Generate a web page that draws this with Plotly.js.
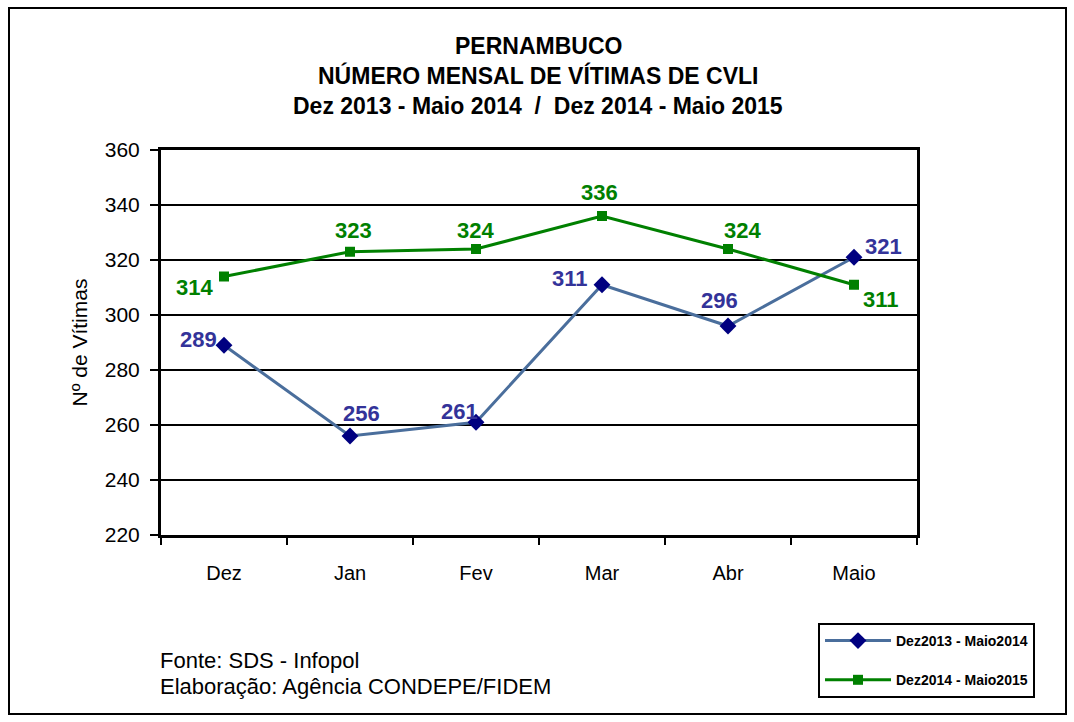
<!DOCTYPE html>
<html>
<head>
<meta charset="utf-8">
<script src="https://cdn.plot.ly/plotly-3.0.1.min.js"></script>
<style>html,body{margin:0;padding:0;background:#fff;}#chart{width:1074px;height:722px;}</style>
</head>
<body>
<div id="chart"></div>
<script>
const months = ["Dez", "Jan", "Fev", "Mar", "Abr", "Maio"];
const series1Name = "Dez2013 - Maio2014";
const series1 = [289, 256, 261, 311, 296, 321];
const series2Name = "Dez2014 - Maio2015";
const series2 = [314, 323, 324, 336, 324, 311];
const yTicks = [220, 240, 260, 280, 300, 320, 340, 360];
const titleLines = ["PERNAMBUCO", "NÚMERO MENSAL DE VÍTIMAS DE CVLI", "Dez 2013 - Maio 2014  /  Dez 2014 - Maio 2015"];
const sourceText = ["Fonte: SDS - Infopol", "Elaboração: Agência CONDEPE/FIDEM"];

const blueLine = "#4a6e9c", blueMarker = "#000080", blueText = "#333399";
const green = "#008000";
const font = "Liberation Sans, Arial, sans-serif";

const W = 756, H = 385, L = 161, T = 150;
const px = v => (v - L) / W;
const py = v => (T + H - v) / H;

// label offsets (pixels) per point
const off1 = [[-26, -6], [11, -23], [-17, -11], [-32, -6], [-9, -26], [29, -11]];
const off2 = [[-30, 11], [3, -21], [-1, -19], [-3, -24], [14, -19], [27, 15]];

const annotations = [];
series1.forEach((v, i) => annotations.push({
  x: months[i], y: v, xref: "x", yref: "y", text: String(v), showarrow: false,
  xshift: off1[i][0], yshift: -off1[i][1],
  font: {family: font, size: 22, color: blueText, weight: "bold"}
}));
series2.forEach((v, i) => annotations.push({
  x: months[i], y: v, xref: "x", yref: "y", text: String(v), showarrow: false,
  xshift: off2[i][0], yshift: -off2[i][1],
  font: {family: font, size: 22, color: green, weight: "bold"}
}));
const titleY = [46, 76, 106];
titleLines.forEach((t, i) => annotations.push({
  xref: "paper", yref: "paper", x: px(538), y: py(titleY[i]), xanchor: "center", yanchor: "middle",
  showarrow: false, text: "<b>" + t + "</b>",
  font: {family: font, size: 23, color: "#000"}
}));
const srcY = [660, 686];
sourceText.forEach((t, i) => annotations.push({
  xref: "paper", yref: "paper", x: px(158), y: py(srcY[i]), xanchor: "left", yanchor: "middle",
  showarrow: false, text: t,
  font: {family: font, size: 22, color: "#000"}
}));

const traces = [
  {x: months, y: series1, name: series1Name, type: "scatter", mode: "lines+markers",
   line: {color: blueLine, width: 3}, marker: {symbol: "diamond", size: 13, color: blueMarker},
   legendgroup: "a"},
  {x: months, y: series2, name: series2Name, type: "scatter", mode: "lines+markers",
   line: {color: green, width: 3}, marker: {symbol: "square", size: 10, color: green},
   legendgroup: "b"}
];

const layout = {
  width: 1074, height: 722,
  margin: {l: 161, r: 157, t: 150, b: 187},
  paper_bgcolor: "#fff", plot_bgcolor: "#fff",
  font: {family: font, color: "#000"},
  xaxis: {
    type: "category", categoryorder: "array", categoryarray: months,
    range: [-0.5, 5.5], tickson: "boundaries", ticks: "outside", ticklen: 7, tickwidth: 2,
    tickcolor: "#000", showline: true, linecolor: "#000", linewidth: 3, mirror: true,
    showgrid: false, tickfont: {family: font, size: 20, color: "#000"}, ticklabelstandoff: 18,
    fixedrange: true
  },
  yaxis: {
    range: [220, 360], tickvals: yTicks, ticks: "outside", ticklen: 8, tickwidth: 2,
    tickcolor: "#000", showline: true, linecolor: "#000", linewidth: 3, mirror: true,
    showgrid: true, gridcolor: "#000", gridwidth: 1.6, zeroline: false,
    tickfont: {family: font, size: 21, color: "#000"}, ticklabelstandoff: 6,
    title: {text: "Nº de Vítimas", font: {family: font, size: 21, color: "#000"}, standoff: 12},
    fixedrange: true
  },
  showlegend: true,
  legend: {
    x: px(818), y: py(623), xanchor: "left", yanchor: "top",
    bordercolor: "#000", borderwidth: 2, bgcolor: "#fff",
    font: {family: font, size: 14, color: "#000", weight: "bold"},
    traceorder: "grouped", tracegroupgap: 18, itemwidth: 66
  },
  annotations: annotations,
  shapes: [{
    type: "rect", xref: "paper", yref: "paper",
    x0: px(9), x1: px(1066), y0: py(714), y1: py(8),
    line: {color: "#000", width: 2}, fillcolor: "rgba(0,0,0,0)", layer: "below"
  }]
};

Plotly.newPlot("chart", traces, layout, {displayModeBar: false, staticPlot: true});
</script>
</body>
</html>
